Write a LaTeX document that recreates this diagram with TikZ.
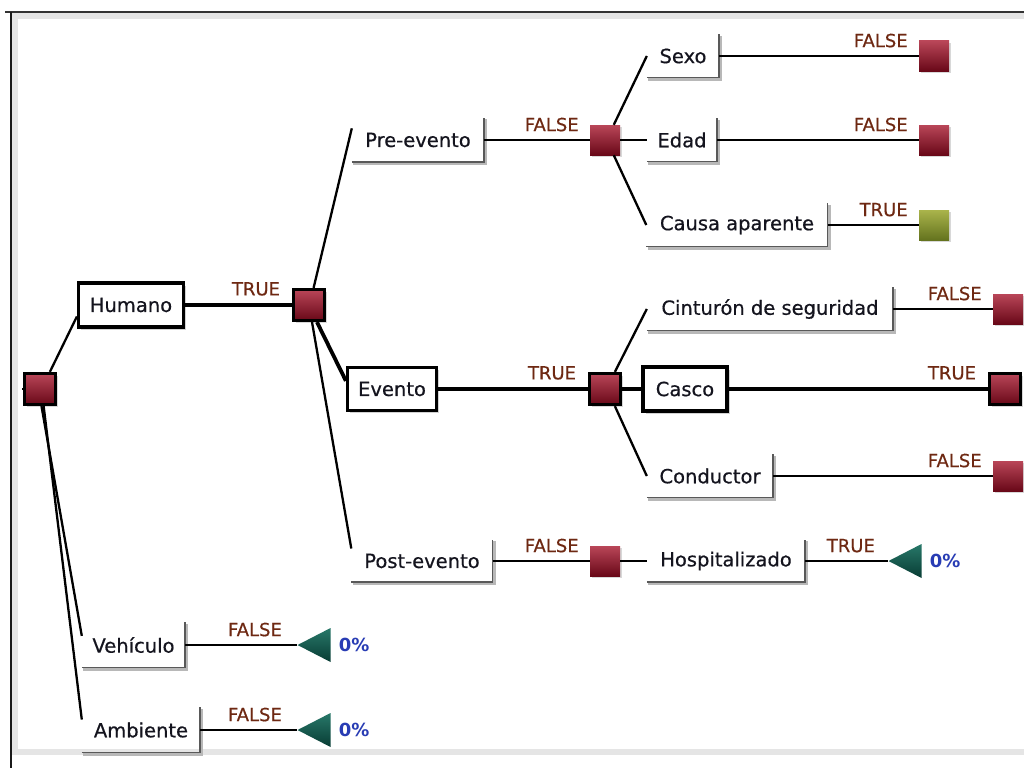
\documentclass[tikz,border=0pt]{standalone}
\usepackage{fontspec}
\setmainfont{DejaVu Sans}
\newfontfamily\heavyfont[FakeBold=0.5]{DejaVu Sans}
\usetikzlibrary{shapes.geometric,shadows,calc}
\definecolor{lblc}{RGB}{110,40,18}
\definecolor{pctc}{RGB}{40,60,180}
\definecolor{txt}{RGB}{20,20,30}
\definecolor{redtop}{RGB}{185,70,88}
\definecolor{redbot}{RGB}{105,8,24}
\definecolor{grtop}{RGB}{170,180,75}
\definecolor{grbot}{RGB}{100,115,30}
\definecolor{tealtop}{RGB}{40,120,105}
\definecolor{tealbot}{RGB}{8,60,52}
\tikzset{
  txtbox/.style={font=\heavyfont\fontsize{19.5}{22}\selectfont, text=txt, inner sep=0pt, minimum height=43pt},
  boldbox/.style={txtbox, draw=black, line width=3.2pt, fill=white, drop shadow={opacity=0.35, shadow xshift=2.5pt, shadow yshift=-2.5pt}},
  decsq/.style={minimum size=30pt, inner sep=0pt, top color=redtop, bottom color=redbot, drop shadow={opacity=0.3, shadow xshift=2pt, shadow yshift=-2pt}},
  selsq/.style={decsq, draw=black, line width=3.2pt, minimum size=31pt},
  grsq/.style={decsq, top color=grtop, bottom color=grbot},
  tri/.style={isosceles triangle, shape border rotate=180, isosceles triangle stretches, minimum width=34pt, minimum height=33pt, inner sep=0pt, top color=tealtop, bottom color=tealbot},
  lbl/.style={font=\heavyfont\fontsize{18}{20}\selectfont, text=lblc, inner sep=0pt, anchor=south east, pos=1, xshift=-10pt, yshift=7.5pt},
  pct/.style={font=\bfseries\fontsize{18}{20}\selectfont, text=pctc, anchor=west, inner sep=0pt},
  conn/.style={line width=2.3pt, black},
  tconn/.style={line width=3.8pt, black},
  edgeshadow/.style={line width=2.8pt, black!28},
  edgeline/.style={line width=1.5pt, black!65},
}
\begin{document}
\begin{tikzpicture}[x=1pt,y=-1pt]
\useasboundingbox (0,0) rectangle (1024,768);
% frame
\fill[white] (0,0) rectangle (1024,768);
\fill[black!10] (12,13) rectangle (1024,755);
\fill[white] (18,19) rectangle (1024,749);
\draw[line width=2pt, black!80] (5,12) -- (1024,12);
\draw[line width=2.5pt, black!90] (11,12) -- (11,768);

% nodes
\node[selsq] (root) at (40,389) {};
\node[boldbox, minimum width=105pt, minimum height=44pt] (hum) at (131,305) {Humano};
\node[selsq] (s2) at (309,305) {};
\node[txtbox, minimum width=132pt, minimum height=44pt] (pre) at (418,140) {Pre-evento};
\node[boldbox, minimum width=89pt] (ev) at (392,389) {Evento};
\node[txtbox, minimum width=141pt, minimum height=42pt] (post) at (422,561) {Post-evento};
\node[decsq] (s3) at (605,140) {};
\node[selsq] (s4) at (605,389) {};
\node[decsq] (s5) at (605,561) {};
\node[txtbox, minimum width=72pt] (sexo) at (683,56) {Sexo};
\node[txtbox, minimum width=70pt] (edad) at (682,140) {Edad};
\node[txtbox, minimum width=181pt] (causa) at (737,225) {Causa aparente};
\node[txtbox, minimum width=246pt] (cint) at (770,309) {Cinturón de seguridad};
\node[boldbox, minimum width=84pt, minimum height=44pt] (casco) at (685,389) {Casco};
\node[txtbox, minimum width=126pt] (cond) at (710,476) {Conductor};
\node[txtbox, minimum width=158pt, minimum height=42pt] (hosp) at (726,561) {Hospitalizado};
\node[decsq] (e1) at (934,56) {};
\node[decsq] (e2) at (934,140) {};
\node[grsq] (e3) at (934,225) {};
\node[decsq] (e4) at (1008,309) {};
\node[selsq] (e5) at (1005,389) {};
\node[decsq] (e6) at (1008,476) {};
\node[txtbox, minimum width=103pt, minimum height=45pt] (veh) at (133.5,645) {Vehículo};
\node[txtbox, minimum width=118pt, minimum height=45pt] (amb) at (141,730) {Ambiente};
\node[tri, anchor=apex] (t1) at (888,561) {};
\node[tri, anchor=apex] (t2) at (297,645) {};
\node[tri, anchor=apex] (t3) at (297,730) {};
\node[pct] (p1) at ([xshift=8pt]t1.east) {0\%};
\node[pct] (p2) at ([xshift=8pt]t2.east) {0\%};
\node[pct] (p3) at ([xshift=8pt]t3.east) {0\%};

% open box edges
\foreach \n in {pre,post,sexo,edad,causa,cint,cond,hosp,veh,amb}{
  \draw[edgeshadow] ([xshift=1.5pt,yshift=-1.5pt]\n.south west) -- ([xshift=1.5pt,yshift=-1.5pt]\n.south east) -- ([xshift=1.5pt,yshift=-1.5pt]\n.north east);
  \draw[edgeline] (\n.south west) -- (\n.south east) -- (\n.north east);
}

% connectors
\coordinate (stub) at (22,389);
\draw[conn] (stub) -- (root.west);
\draw[conn] (root.60) -- (hum.192);
\draw[conn] (root.-85) -- (veh.170);
\draw[conn] (root.-78) -- (amb.170);
\draw[tconn] (hum.east) -- node[lbl]{TRUE} (s2.west);
\draw[conn] (s2.75) -- (pre.170);
\draw[tconn] (s2.-65) -- (ev.170);
\draw[conn] (s2.-80) -- (post.170);
\draw[conn] (pre.east) -- node[lbl]{FALSE} (s3.west);
\draw[tconn] (ev.east) -- node[lbl]{TRUE} (s4.west);
\draw[conn] (post.east) -- node[lbl]{FALSE} (s5.west);
\draw[conn] (s3.60) -- (sexo.west);
\draw[conn] (s3.east) -- (edad.west);
\draw[conn] (s3.-60) -- (causa.west);
\draw[conn] (s4.60) -- (cint.west);
\draw[tconn] (s4.east) -- (casco.west);
\draw[conn] (s4.-60) -- (cond.west);
\draw[conn] (s5.east) -- (hosp.west);
\draw[conn] (sexo.east) -- node[lbl]{FALSE} (e1.west);
\draw[conn] (edad.east) -- node[lbl]{FALSE} (e2.west);
\draw[conn] (causa.east) -- node[lbl]{TRUE} (e3.west);
\draw[conn] (cint.east) -- node[lbl]{FALSE} (e4.west);
\draw[tconn] (casco.east) -- node[lbl]{TRUE} (e5.west);
\draw[conn] (cond.east) -- node[lbl]{FALSE} (e6.west);
\draw[conn] (hosp.east) -- node[lbl, xshift=-2pt]{TRUE} (t1.apex);
\draw[conn] (veh.east) -- node[lbl, xshift=-4pt]{FALSE} (t2.apex);
\draw[conn] (amb.east) -- node[lbl, xshift=-4pt]{FALSE} (t3.apex);
\end{tikzpicture}
\end{document}
